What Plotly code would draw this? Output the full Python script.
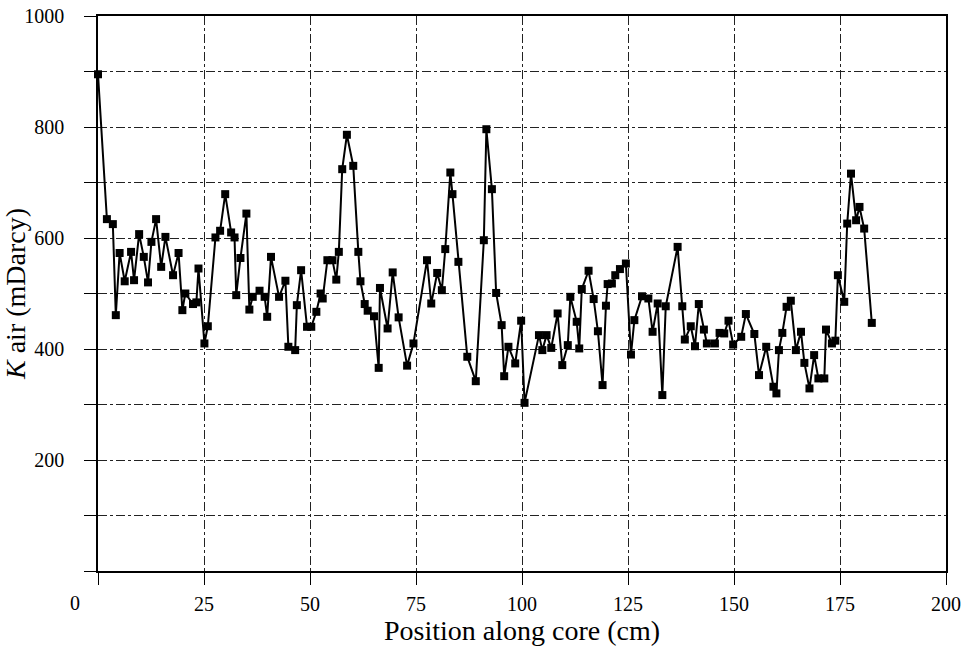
import plotly.graph_objects as go

position_cm = [0, 2.1, 3.5, 4.2, 5.1, 6.3, 7.8, 8.5, 9.7, 10.8, 11.8, 12.6, 13.7, 14.9, 15.9,
               17.7, 19.0, 19.9, 20.6, 22.4, 23.2, 23.7, 25.1, 25.9, 27.7, 28.8, 30.0, 31.4,
               32.2, 32.6, 33.6, 35.0, 35.7, 36.5, 38.1, 39.3, 39.9, 40.8, 42.7, 44.2, 44.9,
               46.5, 46.9, 47.9, 49.3, 50.3, 51.5, 52.5, 53.0, 54.1, 55.3, 56.2, 56.8, 57.6,
               58.7, 60.2, 61.4, 61.9, 62.9, 63.6, 65.1, 66.2, 66.5, 68.3, 69.5, 70.9, 72.9,
               74.4, 77.6, 78.6, 80.0, 81.1, 81.9, 83.1, 83.6, 85.0, 87.1, 89.1, 91.0, 91.6,
               92.9, 93.9, 95.2, 95.8, 96.8, 98.4, 99.8, 100.6, 104.0, 104.8, 105.8, 106.9,
               108.4, 109.5, 110.8, 111.4, 112.9, 113.5, 114.1, 115.7, 116.9, 117.9, 119.0,
               119.8, 120.2, 121.2, 122.0, 123.1, 124.5, 125.7, 126.5, 128.3, 129.8, 130.8,
               132.0, 133.1, 133.9, 136.7, 137.8, 138.4, 139.8, 140.8, 141.7, 142.9, 143.6,
               145.5, 146.6, 147.7, 148.7, 149.8, 151.7, 152.8, 154.8, 155.9, 157.6, 159.3,
               160.0, 160.6, 161.4, 162.4, 163.4, 164.6, 165.8, 166.6, 167.8, 168.9, 169.9,
               171.3, 171.7, 173.1, 173.9, 174.5, 176.0, 176.7, 177.6, 178.8, 179.6, 180.7,
               182.5]

k_air_mdarcy = [895, 634, 625, 461, 573, 522, 575, 524, 607, 566, 520, 593, 634, 548, 602,
                533, 573, 470, 500, 481, 484, 545, 410, 441, 601, 613, 679, 610,
                601, 497, 564, 644, 471, 494, 505, 494, 458, 566, 494, 523, 404,
                398, 479, 542, 440, 440, 467, 500, 491, 560, 560, 525, 575, 724,
                786, 730, 575, 522, 481, 469, 459, 366, 510, 437, 538, 457, 370,
                410, 560, 482, 537, 506, 580, 718, 679, 557, 386, 342, 596, 796,
                688, 501, 443, 351, 404, 374, 451, 303, 425, 398, 425, 402,
                464, 371, 407, 494, 449, 401, 508, 541, 490, 432, 335,
                478, 517, 518, 533, 544, 554, 390, 452, 495, 491, 431,
                482, 317, 477, 584, 477, 417, 441, 405, 481, 435, 410,
                410, 429, 428, 451, 408, 422, 463, 427, 353, 404, 332,
                320, 398, 429, 476, 487, 398, 431, 375, 329, 389, 347,
                347, 435, 410, 415, 533, 485, 626, 716, 632, 656, 617,
                447]

x_ticks = [0, 25, 50, 75, 100, 125, 150, 175, 200]
x_tick_text = ["", "25", "50", "75", "100", "125", "150", "175", "200"]
y_ticks = [0, 100, 200, 300, 400, 500, 600, 700, 800, 900, 1000]
y_tick_text = ["", "", "200", "", "400", "", "600", "", "800", "", "1000"]

FONT = "Liberation Serif, Times New Roman, serif"

fig = go.Figure()
fig.add_trace(go.Scatter(
    x=position_cm, y=k_air_mdarcy, mode="lines+markers",
    line=dict(color="black", width=2),
    marker=dict(symbol="square", size=8, color="black"),
    showlegend=False,
    cliponaxis=False,
))

axis_common = dict(
    showline=True, linecolor="black", linewidth=1.5, mirror=True,
    showgrid=True, gridcolor="#222222", gridwidth=1, griddash="dashdot",
    ticks="outside", ticklen=12, tickcolor="black", tickwidth=1.2,
    tickfont=dict(family=FONT, size=20, color="black"),
    zeroline=False, automargin=False,
)

fig.update_layout(
    width=970, height=649,
    margin=dict(l=98, r=24, t=16, b=78, autoexpand=False),
    paper_bgcolor="white", plot_bgcolor="white",
    font=dict(family=FONT, color="black"),
    xaxis=dict(range=[0, 200], tickvals=x_ticks, ticktext=x_tick_text,
               ticklabelstandoff=2,
               title=dict(text="Position along core (cm)", font=dict(family=FONT, size=28),
                          standoff=2),
               **axis_common),
    yaxis=dict(range=[0, 1000], tickvals=y_ticks, ticktext=y_tick_text,
               ticklabelstandoff=16,
               title=dict(text="<i>K</i> air (mDarcy)", font=dict(family=FONT, size=28),
                          standoff=2),
               **axis_common),
)

fig.add_annotation(text="0", xref="paper", yref="paper", x=-0.027, y=-0.058,
                   showarrow=False, font=dict(family=FONT, size=20, color="black"),
                   xanchor="center", yanchor="middle")

fig.write_html("out.html")
